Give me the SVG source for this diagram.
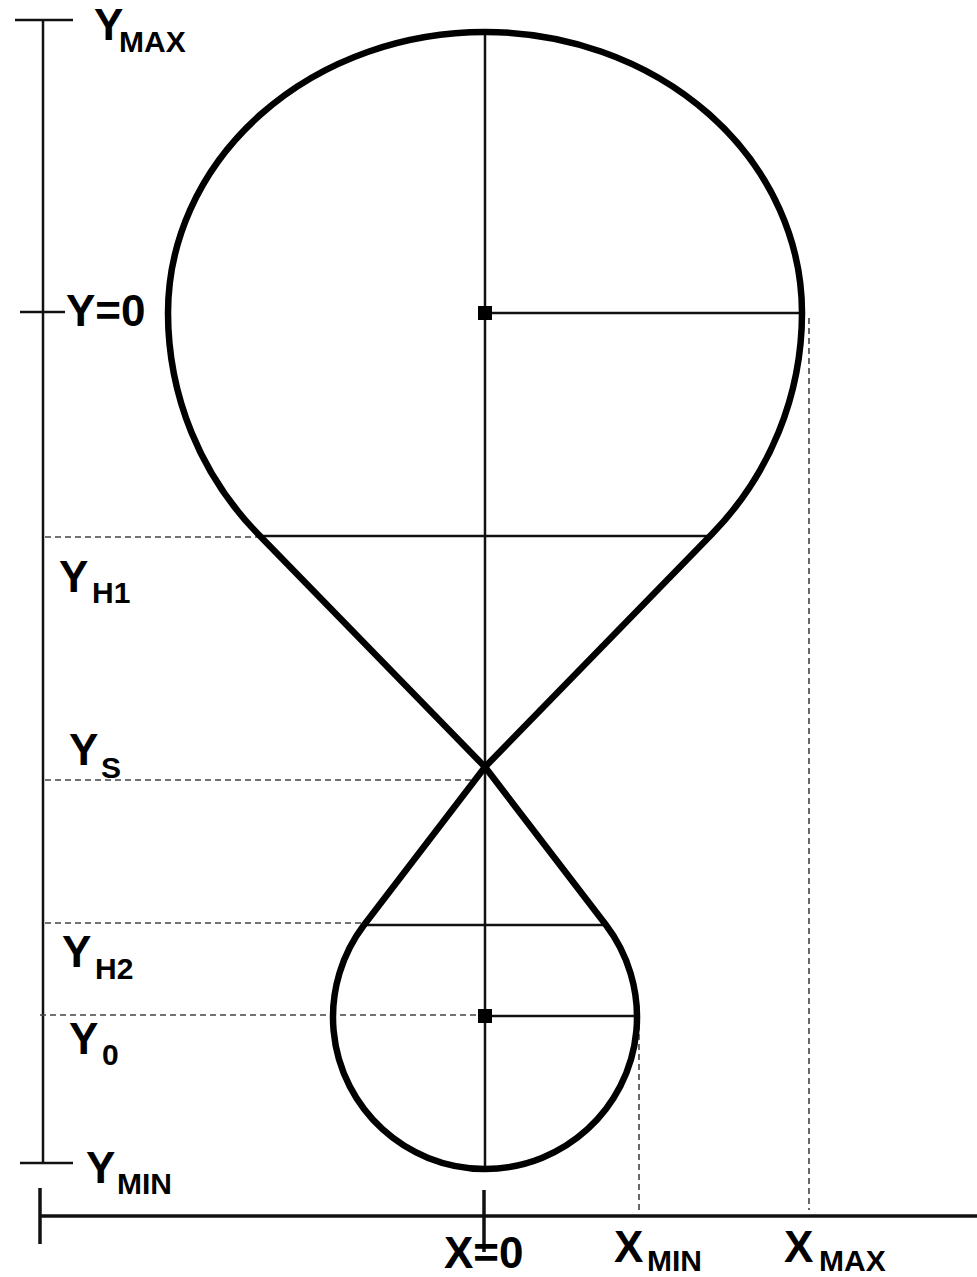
<svg xmlns="http://www.w3.org/2000/svg" width="977" height="1277" viewBox="0 0 977 1277">
<style>
.ax{stroke:#111;stroke-width:2.5;fill:none}
.bx{stroke:#111;stroke-width:3.5;fill:none}
.ln{stroke:#111;stroke-width:2.5;fill:none}
.ds{stroke:#444;stroke-width:1.6;stroke-dasharray:6 4;fill:none}
.ol{stroke:#000;stroke-width:6.5;fill:none;stroke-linejoin:round}
.t{font-family:"Liberation Sans",Arial,sans-serif;font-weight:bold;fill:#000}
.m{font-size:44px}
.s{font-size:30px}
</style>
<rect width="977" height="1277" fill="#fff"/>
<g id="connectors">
<line class="ax" x1="43" y1="20" x2="43" y2="1163"/>
<line class="ax" x1="15" y1="20" x2="73" y2="20"/>
<line class="ax" x1="20" y1="312" x2="65" y2="312"/>
<line class="ax" x1="20" y1="1163" x2="73" y2="1163"/>
<line class="bx" x1="40" y1="1216" x2="977" y2="1216"/>
<line class="bx" x1="40" y1="1188" x2="40" y2="1244"/>
<line class="bx" x1="484" y1="1190" x2="484" y2="1252"/>
<line class="ds" x1="45" y1="537" x2="258" y2="537"/>
<line class="ds" x1="45" y1="780" x2="476" y2="780"/>
<line class="ds" x1="45" y1="923" x2="362" y2="923"/>
<line class="ds" x1="40" y1="1015" x2="480" y2="1015"/>
<line class="ds" x1="639" y1="1024" x2="639" y2="1210"/>
<line class="ds" x1="809" y1="318" x2="809" y2="1210"/>
<line class="ln" x1="485" y1="32" x2="485" y2="1168"/>
<line class="ln" x1="485" y1="313" x2="802" y2="313"/>
<line class="ln" x1="485" y1="1016" x2="637" y2="1016"/>
<line class="ln" x1="260" y1="536" x2="711" y2="536"/>
<line class="ln" x1="366" y1="925" x2="604" y2="925"/>
</g>
<g id="outline">
<path class="ol" d="M 258,534 A 317 317 0 0 1 168,313 A 317 281 0 0 1 485,32 A 317 281 0 0 1 802,313 A 317 317 0 0 1 712,534 L 485,767 L 364,925 A 152 152 0 1 0 606,925 L 485,767 Z"/>
</g>
<g id="center-big"><rect x="478" y="306" width="14" height="14" fill="#000"/></g>
<g id="center-small"><rect x="478" y="1009" width="14" height="14" fill="#000"/></g>
<g id="labels">
<text class="t m" x="94" y="40">Y<tspan class="s" x="119" y="52">MAX</tspan></text>
<text class="t m" x="66" y="326">Y=0</text>
<text class="t m" x="59" y="592">Y<tspan class="s" x="92" y="603">H1</tspan></text>
<text class="t m" x="69" y="765">Y<tspan class="s" x="101" y="778">S</tspan></text>
<text class="t m" x="62" y="967">Y<tspan class="s" x="95" y="979">H2</tspan></text>
<text class="t m" x="69" y="1054">Y<tspan class="s" x="102" y="1065">0</tspan></text>
<text class="t m" x="86" y="1183">Y<tspan class="s" x="117" y="1194">MIN</tspan></text>
<text class="t m" x="444" y="1268">X=0</text>
<text class="t m" x="614" y="1262">X<tspan class="s" x="647" y="1271">MIN</tspan></text>
<text class="t m" x="784" y="1262">X<tspan class="s" x="819" y="1271">MAX</tspan></text>
</g>
</svg>
